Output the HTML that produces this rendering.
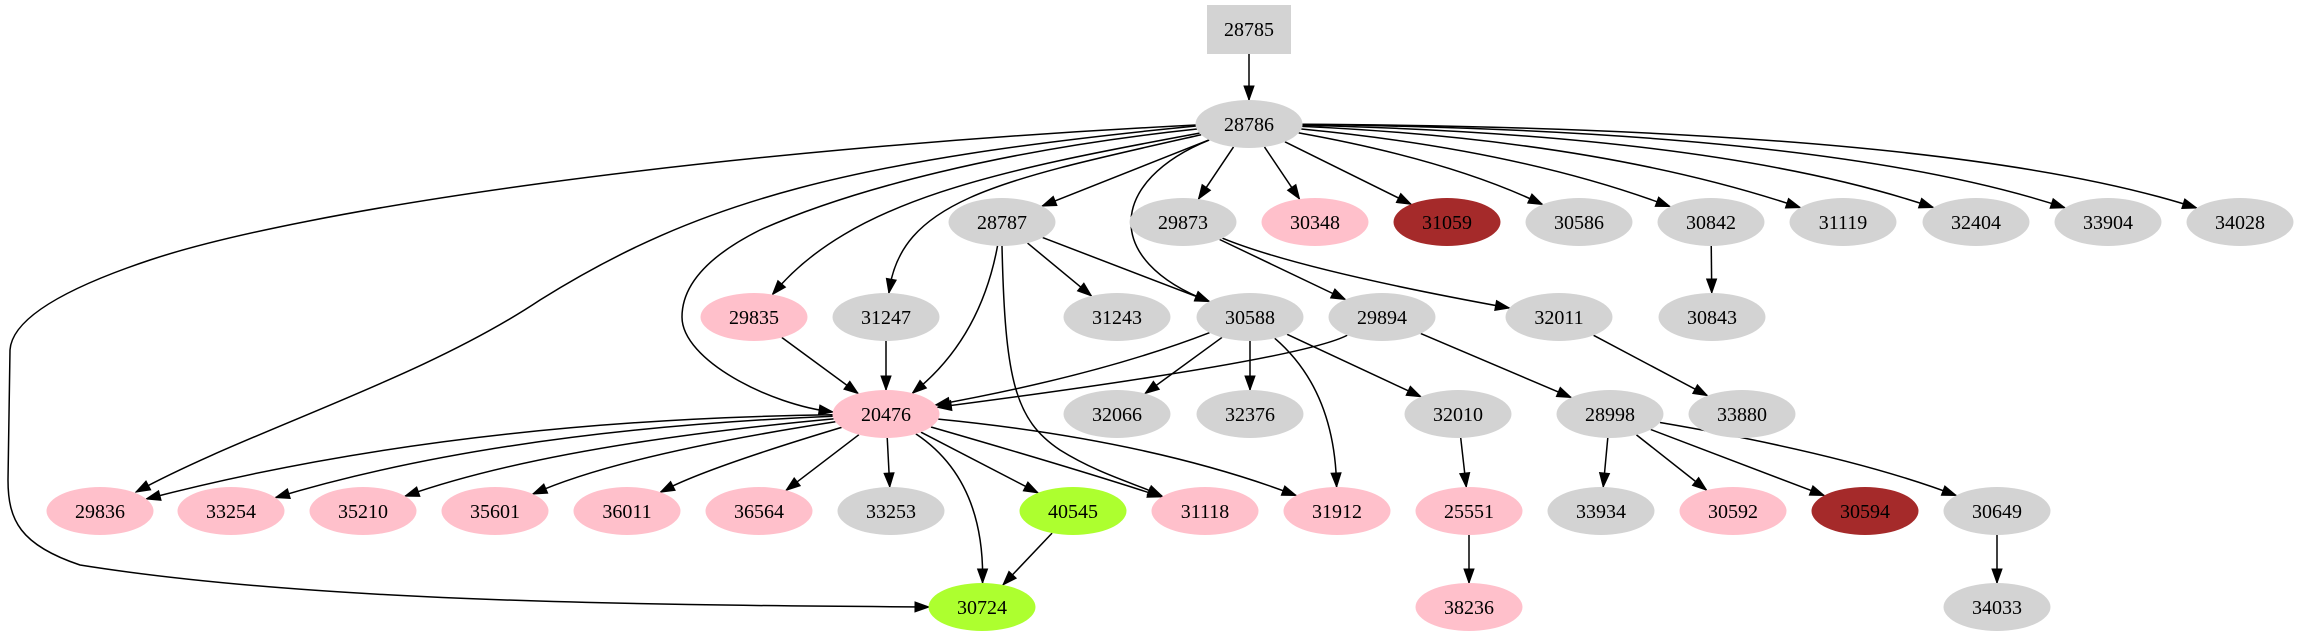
<!DOCTYPE html>
<html><head><meta charset="utf-8"><style>
html,body{margin:0;padding:0;background:#fff;}
svg{display:block;}
svg text{font-family:"Liberation Serif","DejaVu Serif",serif;font-size:20px;text-anchor:middle;fill:#000;}
</style></head><body>
<svg id="g" width="2299" height="635" viewBox="0 0 2299 635" xmlns="http://www.w3.org/2000/svg">
<g id="edges" fill="none" stroke="#000" stroke-width="1.5"></g>
<g id="arrows" fill="#000" stroke="#000"></g>
<g id="nodes"></g>
</svg>
<script>
var G='#d3d3d3',P='#ffc0cb',B='#a52a2a',Y='#adff2f';
var R1=124,R2=222,R3=317,R4=414,R5=511,R6=607;
var N={
'28785':[1249,29,G,'box'],'28786':[1249,R1,G],
'28787':[1002,R2,G],'29873':[1183,R2,G],'30348':[1315,R2,P],'31059':[1447,R2,B],'30586':[1579,R2,G],'30842':[1711,R2,G],'31119':[1843,R2,G],'32404':[1976,R2,G],'33904':[2108,R2,G],'34028':[2240,R2,G],
'29835':[754,R3,P],'31247':[886,R3,G],'31243':[1117,R3,G],'30588':[1250,R3,G],'29894':[1382,R3,G],'32011':[1559,R3,G],'30843':[1712,R3,G],
'20476':[886,R4,P],'32066':[1117,R4,G],'32376':[1250,R4,G],'32010':[1458,R4,G],'28998':[1610,R4,G],'33880':[1742,R4,G],
'29836':[100,R5,P],'33254':[231,R5,P],'35210':[363,R5,P],'35601':[495,R5,P],'36011':[627,R5,P],'36564':[759,R5,P],'33253':[891,R5,G],'40545':[1073,R5,Y],'31118':[1205,R5,P],'31912':[1337,R5,P],'25551':[1469,R5,P],'33934':[1601,R5,G],'30592':[1733,R5,P],'30594':[1865,R5,B],'30649':[1997,R5,G],
'30724':[982,R6,Y],'38236':[1469,R6,P],'34033':[1997,R6,G]};
var RX=53.5,RY=24;
var E=[
['28785','28786'],
['28786','28787'],['28786','29873'],['28786','30348'],['28786','31059'],['28786','30586',[[1450,160]]],
['28786','30842',[[1520,150]]],['28786','31119',[[1600,140]]],['28786','32404',[[1720,135]]],['28786','33904',[[1830,130]]],['28786','34028',[[1950,128]]],
['28786','29835',[[1000,170],[850,200]]],['28786','31247',[[1000,180],[900,200]]],
['28786','30588',[[1110,180],[1100,260]]],
['28786','20476',null,'M1197,129 C1000,150 850,190 760,230 C700,260 682,290 682,317 C682,360 770,405 833,412'],
['28786','29836',null,'M1196,126 C850,160 700,200 540,300 C420,380 250,430 136,492'],
['28786','30724',null,'M1196,125 C700,150 300,210 150,260 C60,290 12,320 10,350 L8,480 C8,520 20,545 80,565 C300,600 600,605 929,607'],
['28787','30588'],['28787','31243'],['28787','20476',[[980,340]]],
['28787','31118',null,'M1002,246 C1005,380 1015,420 1060,450 C1100,475 1140,485 1162,496'],
['29873','29894'],['29873','32011',[[1300,270]]],
['29835','20476'],['31247','20476'],
['30588','20476',[[1100,375]]],['30588','32066'],['30588','32376'],['30588','32010'],['30588','31912',[[1335,390]]],
['29894','20476',[[1300,360]]],['29894','28998'],
['32011','33880'],['30842','30843'],
['20476','29836',[[450,420]]],['20476','33254',[[500,430]]],['20476','35210',[[550,445]]],['20476','35601',[[620,455]]],['20476','36011',[[700,470]]],['20476','36564'],['20476','33253'],['20476','40545'],
['20476','30724',[[985,480]]],['20476','31118',[[1080,470]]],['20476','31912',[[1150,440]]],
['32010','25551'],['25551','38236'],
['28998','33934'],['28998','30592'],['28998','30594'],['28998','30649',[[1850,455]]],
['30649','34033'],['40545','30724']];
function bnd(n,tx,ty){var c=N[n];if(c[3]=='box'){return [c[0],54];}
 var dx=tx-c[0],dy=ty-c[1];var t=1/Math.sqrt((dx/RX)*(dx/RX)+(dy/RY)*(dy/RY));return [c[0]+dx*t,c[1]+dy*t];}
var ns='http://www.w3.org/2000/svg';
var eg=document.getElementById('edges'),ag=document.getElementById('arrows'),ng=document.getElementById('nodes');
E.forEach(function(e){var d;
 if(e[3]){d=e[3];}else{var a=N[e[0]],b=N[e[1]],c=e[2]||[];
  var s=bnd(e[0],c.length?c[0][0]:b[0],c.length?c[0][1]:b[1]);
  var l=c.length?c[c.length-1]:a;var t=bnd(e[1],l[0],l[1]);
  if(c.length==0)d='M'+s+' L'+t;else if(c.length==1)d='M'+s+' Q'+c[0]+' '+t;else d='M'+s+' C'+c[0]+' '+c[1]+' '+t;}
 var p=document.createElementNS(ns,'path');p.setAttribute('d',d);eg.appendChild(p);
 var L=p.getTotalLength();var q=p.getPointAtLength(L),r=p.getPointAtLength(Math.max(0,L-14));
 var dx=q.x-r.x,dy=q.y-r.y,m=Math.sqrt(dx*dx+dy*dy)||1;dx/=m;dy/=m;
 var bx=q.x-dx*14,by=q.y-dy*14;
 var pg=document.createElementNS(ns,'polygon');
 pg.setAttribute('points',q.x+','+q.y+' '+(bx-dy*5)+','+(by+dx*5)+' '+(bx+dy*5)+','+(by-dx*5));
 ag.appendChild(pg);
});
for(var k in N){var c=N[k],s;
 if(c[3]=='box'){s=document.createElementNS(ns,'rect');s.setAttribute('x',1207);s.setAttribute('y',5);s.setAttribute('width',84);s.setAttribute('height',49);}
 else{s=document.createElementNS(ns,'ellipse');s.setAttribute('cx',c[0]);s.setAttribute('cy',c[1]);s.setAttribute('rx',RX);s.setAttribute('ry',RY);}
 s.setAttribute('fill',c[2]);ng.appendChild(s);
 var t=document.createElementNS(ns,'text');t.setAttribute('x',c[0]);t.setAttribute('y',c[1]+7);
 t.setAttribute('font-family','Liberation Serif, DejaVu Serif, serif');t.setAttribute('font-size','20');
 t.textContent=k;ng.appendChild(t);}
</script>
</body></html>
